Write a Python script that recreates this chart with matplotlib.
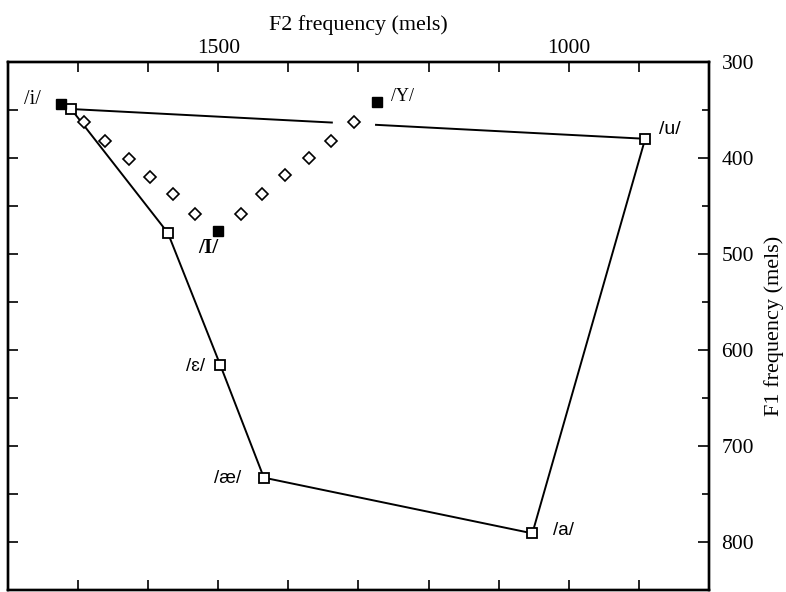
import numpy as np
import matplotlib
matplotlib.use("Agg")
import matplotlib.pyplot as plt
from matplotlib.ticker import FixedLocator, MultipleLocator

# ---- data (mels) ----
poly_labels = ['/i/', '/u/', '/a/', '/æ/', '/ɛ/', '']
poly_f2 = [1710, 891, 1052, 1435, 1497, 1572]
poly_f1 = [349, 380, 791, 733, 616, 478]

filled_labels = ['/i/', '/I/', '/Y/']
filled_f2 = [1725, 1500, 1274]
filled_f1 = [344, 476, 342]

diamond_f2 = [1692, 1662, 1628, 1597, 1565, 1533, 1468, 1437, 1405, 1371, 1339, 1306]
diamond_f1 = [363, 382, 401, 420, 438, 458, 458, 438, 418, 400, 382, 362]

x_ticks = [1700, 1600, 1500, 1400, 1300, 1200, 1100, 1000, 900]
x_ticklabels = ['', '', '1500', '', '', '', '', '1000', '']
y_major = [300, 400, 500, 600, 700, 800]
y_ticklabels = ['300', '400', '500', '600', '700', '800']

# ---- style ----
SERIF = ['Liberation Serif', 'DejaVu Serif']
SANS = ['Liberation Sans', 'DejaVu Sans']
plt.rcParams['font.family'] = SERIF
GAP = (1338, 1275)  # gap in the /i/-/u/ edge (mels along F2)

fig = plt.figure(figsize=(7.86, 5.92), dpi=100)
ax = fig.add_axes([0.0102, 0.0034, 0.8918, 0.8919])
ax.set_xlim(1800, 800)
ax.set_ylim(850, 300)

lw = 1.4
# polygon edges
n = len(poly_f2)
for i in range(n):
    j = (i + 1) % n
    xs = [poly_f2[i], poly_f2[j]]
    ys = [poly_f1[i], poly_f1[j]]
    if i == 0:
        xa, xb = GAP
        ya = np.interp(xa, xs[::-1], ys[::-1])
        yb = np.interp(xb, xs[::-1], ys[::-1])
        ax.plot([xs[0], xa], [ys[0], ya], color='black', lw=lw, zorder=2)
        ax.plot([xb, xs[1]], [yb, ys[1]], color='black', lw=lw, zorder=2)
    else:
        ax.plot(xs, ys, color='black', lw=lw, zorder=2)

ax.plot(poly_f2, poly_f1, linestyle='none', marker='s', ms=7.5,
        mfc='white', mec='black', mew=1.3, zorder=3)
ax.plot(diamond_f2, diamond_f1, linestyle='none', marker='D', ms=5.7,
        mfc='white', mec='black', mew=1.2, zorder=3)
ax.plot(filled_f2, filled_f1, linestyle='none', marker='s', ms=7.2,
        mfc='black', mec='black', zorder=4)

# labels
def lab(text, x, y, dx, dy, ha, family, size, weight='normal'):
    ax.annotate(text, (x, y), xytext=(dx, dy), textcoords='offset points',
                ha=ha, va='center', family=family, fontsize=size, fontweight=weight)

lab(filled_labels[0], filled_f2[0], filled_f1[0], -20, 3.5, 'center', SERIF, 14.5)
lab(filled_labels[1], filled_f2[1], filled_f1[1], -7, -12, 'center', SERIF, 15.5, 'bold')
lab(filled_labels[2], filled_f2[2], filled_f1[2], 10, 4, 'left', SERIF, 13)
lab(poly_labels[1], poly_f2[1], poly_f1[1], 10, 6.5, 'left', SANS, 14)
lab(poly_labels[2], poly_f2[2], poly_f1[2], 15, 2, 'left', SANS, 13.5)
lab(poly_labels[3], poly_f2[3], poly_f1[3], -16, -0.5, 'right', SANS, 13.5)
lab(poly_labels[4], poly_f2[4], poly_f1[4], -11, -0.5, 'right', SANS, 13.5)

# x axis (top)
ax.xaxis.set_major_locator(FixedLocator(x_ticks))
ax.set_xticklabels(x_ticklabels)
ax.tick_params(axis='x', which='both', direction='in', top=True, bottom=True,
               labeltop=True, labelbottom=False, length=7, width=1.2,
               labelsize=15.5, pad=3)
ax.xaxis.set_label_position('top')
ax.set_xlabel('F2 frequency (mels)', fontsize=15.8, labelpad=6)

# left y ticks every 50
ax.yaxis.set_major_locator(MultipleLocator(50))
ax.tick_params(axis='y', which='both', direction='in', left=True, right=False,
               labelleft=False, length=7, width=1.2)

# right axis
ax2 = ax.twinx()
ax2.set_ylim(850, 300)
ax2.yaxis.set_major_locator(FixedLocator(y_major))
ax2.set_yticklabels(y_ticklabels)
ax2.yaxis.set_minor_locator(MultipleLocator(50))
ax2.tick_params(axis='y', which='major', direction='in', length=7.7, width=1.2,
                labelsize=15.5, pad=9)
ax2.tick_params(axis='y', which='minor', direction='in', length=5.3, width=1.2)
ax2.set_ylabel('F1 frequency (mels)', fontsize=16, labelpad=7)

for a in (ax, ax2):
    for s in a.spines.values():
        s.set_linewidth(1.7)

fig.savefig('out.png', dpi=100)
